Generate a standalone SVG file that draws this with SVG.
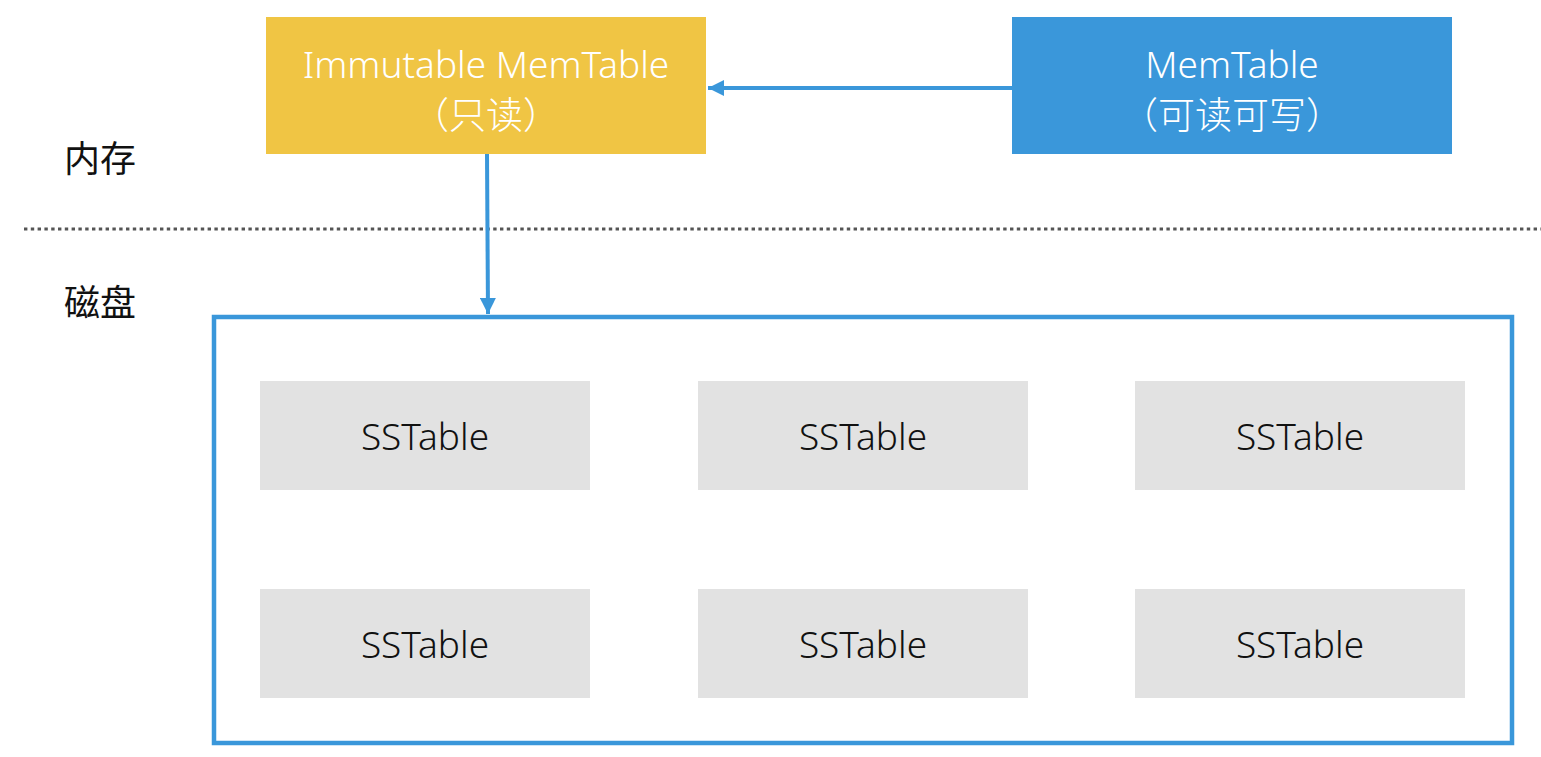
<svg xmlns="http://www.w3.org/2000/svg" width="1541" height="757" viewBox="0 0 1541 757">
<style>
.t{font-family:"Noto Sans","Noto Sans CJK SC",sans-serif;font-size:37px;font-weight:300;text-anchor:middle}
.w{fill:#ffffff}
.k{fill:#111111}
.ss{fill:#e2e2e2}
.lab{font-family:"Noto Sans CJK SC",sans-serif;font-size:36px;fill:#111111}
.c{stroke:#3a97da;stroke-width:4;fill:none}
</style>
<defs>
<marker id="ah" viewBox="0 0 10 10" refX="10" refY="5" markerWidth="4" markerHeight="4" markerUnits="strokeWidth" orient="auto">
<path d="M0,0 L10,5 L0,10 z" fill="#3a97da"/>
</marker>
</defs>
<rect width="1541" height="757" fill="#ffffff"/>
<line x1="24" y1="229" x2="1541" y2="229" stroke="#555555" stroke-width="3" stroke-dasharray="3.4 3.4"/>
<g id="label-mem"><text class="lab" x="64" y="172">内存</text></g>
<g id="label-disk"><text class="lab" x="64" y="316">磁盘</text></g>
<g id="immutable">
<rect x="266" y="17" width="440" height="137" fill="#f0c544"/>
<text class="t w" x="486" y="78">Immutable MemTable</text>
<text class="t w" x="486" y="129">（只读）</text>
</g>
<g id="memtable">
<rect x="1012" y="17" width="440" height="137" fill="#3a97da"/>
<text class="t w" x="1232" y="78">MemTable</text>
<text class="t w" x="1232" y="129">（可读可写）</text>
</g>
<g id="disk">
<rect x="214" y="317" width="1298" height="426" fill="none" stroke="#3a97da" stroke-width="4.5"/>
</g>
<g id="ss1"><rect class="ss" x="260" y="381" width="330" height="109"/><text class="t k" x="425" y="450">SSTable</text></g>
<g id="ss2"><rect class="ss" x="698" y="381" width="330" height="109"/><text class="t k" x="863" y="450">SSTable</text></g>
<g id="ss3"><rect class="ss" x="1135" y="381" width="330" height="109"/><text class="t k" x="1300" y="450">SSTable</text></g>
<g id="ss4"><rect class="ss" x="260" y="589" width="330" height="109"/><text class="t k" x="425" y="658">SSTable</text></g>
<g id="ss5"><rect class="ss" x="698" y="589" width="330" height="109"/><text class="t k" x="863" y="658">SSTable</text></g>
<g id="ss6"><rect class="ss" x="1135" y="589" width="330" height="109"/><text class="t k" x="1300" y="658">SSTable</text></g>
<g id="connectors">
<line class="c" x1="1012" y1="88" x2="708" y2="88" marker-end="url(#ah)"/>
<line class="c" x1="487" y1="154" x2="488" y2="314" marker-end="url(#ah)"/>
</g>
</svg>
